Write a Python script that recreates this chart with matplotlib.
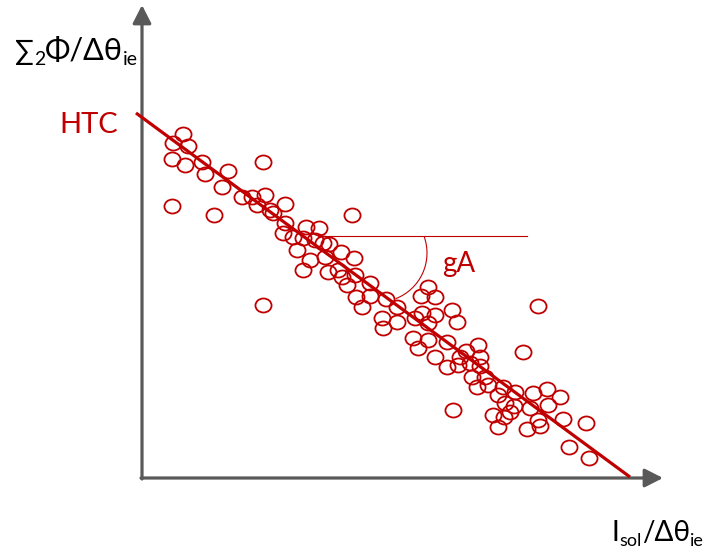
import matplotlib
matplotlib.use('Agg')
import matplotlib.pyplot as plt
import numpy as np
from matplotlib.path import Path
from matplotlib.transforms import Affine2D
from matplotlib.patches import Arc

plt.rcParams['font.family'] = ['Lato', 'Open Sans', 'DejaVu Sans']

red = '#c00000'
grey = '#595959'

# measured points (x right, y up, origin at the axis corner)
pts_x = [30, 30, 31, 41, 43, 46, 60, 63, 72, 80, 86, 100, 110, 115, 121, 121, 123, 128, 131,
         143, 143, 141, 151, 155, 161, 164, 161, 168, 173, 177, 181, 187, 183, 186, 196, 199,
         200, 205, 210, 212, 213, 214, 220, 228, 228, 244, 255, 240, 255, 241, 273, 279, 286,
         293, 280, 293, 286, 271, 286, 276, 305, 310, 315, 293, 305, 311, 316, 318, 324, 336,
         328, 338, 338, 330, 343, 335, 346, 361, 356, 363, 351, 362, 356, 372, 368, 373, 381,
         391, 388, 385, 396, 398, 396, 405, 406, 418, 421, 427, 444, 447]
pts_y = [319, 272, 335, 344, 313, 332, 316, 304, 263, 291, 307, 281, 281, 273, 316, 173, 283,
         268, 265, 274, 255, 245, 241, 228, 240, 251, 208, 218, 238, 250, 235, 234, 221, 206,
         208, 226, 201, 193, 263, 220, 203, 181, 171, 195, 182, 179, 171, 160, 156, 150, 160,
         182, 191, 181, 165, 163, 155, 140, 138, 130, 136, 168, 156, 121, 111, 68, 113, 121,
         127, 133, 115, 121, 112, 101, 101, 91, 93, 91, 83, 75, 63, 61, 51, 72, 66, 86, 126,
         85, 70, 49, 58, 52, 172, 89, 73, 81, 59, 31, 55, 20]

# drawn trend line and the angle marker
line_x = [-6, 488]
line_y = [365, 1]
hline_x = [176, 385]
hline_y = [242, 242]
arc_center = (236, 225)
arc_radius = 49
arc_angles = (-69, 20)

fig = plt.figure(figsize=(7.11, 5.52), dpi=100)
ax = fig.add_axes([0, 0, 1, 1])
ax.set_xlim(-142, 569)
ax.set_ylim(-74, 478)
ax.axis('off')

# axes with arrow heads
arr = dict(arrowstyle='-|>,head_length=11,head_width=5.6', mutation_scale=1,
           color=grey, lw=2.3, shrinkA=0, shrinkB=0)
ax.annotate('', xy=(0, 473), xytext=(0, -1), arrowprops=arr)
ax.annotate('', xy=(521, 0), xytext=(-1, 0), arrowprops=arr)

ellipse = Path.unit_circle().transformed(Affine2D().scale(1, 0.87))
ax.plot(pts_x, pts_y, ls='none', marker=ellipse, ms=11.6, mfc='none', mec=red, mew=1.3,
        zorder=3)
ax.plot(line_x, line_y, color=red, lw=2.3, solid_capstyle='butt', zorder=4)
ax.plot(hline_x, hline_y, color=red, lw=0.8, zorder=2)
ax.add_patch(Arc(arc_center, 2 * arc_radius, 2 * arc_radius, theta1=arc_angles[0],
                 theta2=arc_angles[1], color=red, lw=0.8))

ax.text(-53, 353, 'HTC', color=red, fontsize=21, ha='center', va='center')
ax.text(300, 206, 'gA', color=red, fontsize=20, ha='left', va='baseline')


def label(parts, x, y):
    first = ax.text(x, y, parts[0][0], fontsize=parts[0][1], ha='left', va='baseline')
    prev = first
    for s, size, sub in parts[1:]:
        prev = ax.annotate(s, xy=(1, 0), xycoords=(prev, first),
                           xytext=(0, -2.5 if sub else 0), textcoords='offset points',
                           fontsize=size, ha='left', va='bottom')


label([('∑', 20), ('2', 14, True), ('Φ/Δθ', 22, False), ('ie', 14, True)], -127, 418)
label([('I', 20), ('sol', 13, True), ('/Δθ', 20, False), ('ie', 13, True)], 470, -63)

fig.savefig('out.png', dpi=100)
